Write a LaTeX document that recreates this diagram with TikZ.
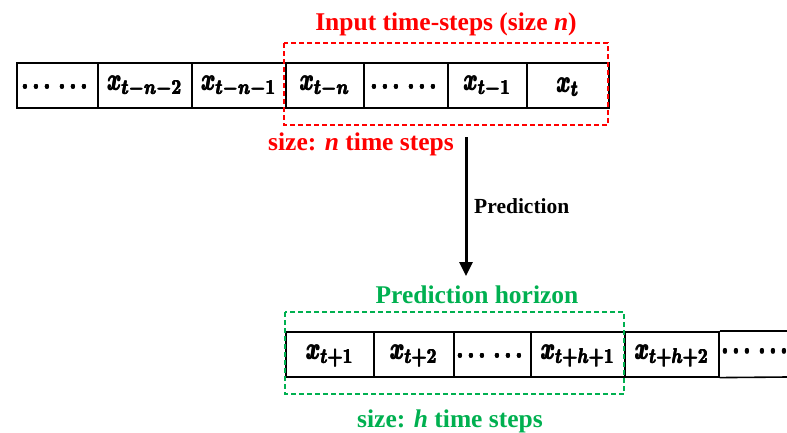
\documentclass[tikz,border=0pt]{standalone}
\usepackage{amsmath,graphicx}
\usepackage[no-math]{fontspec}
\setmainfont{Liberation Serif}
\usetikzlibrary{arrows.meta}
\definecolor{myred}{HTML}{FF0000}
\definecolor{mygreen}{HTML}{00B050}
\newcommand{\fb}[1]{\rlap{#1}\rlap{\kern0.4pt#1}\rlap{\raisebox{0.3pt}{#1}}\kern0.4pt\raisebox{0.3pt}{#1}}
\newcommand{\mth}[1]{\scalebox{2.15}[3.05]{\fontsize{10}{12}\selectfont\boldmath\fb{#1}}}
\begin{document}
\begin{tikzpicture}[x=1pt,y=-1pt,
  cell/.style={draw=black,line width=1.6pt,inner sep=0pt,anchor=north west,
    minimum height=45pt},
  lbl/.style={font=\fontsize{25.5}{30}\selectfont\bfseries,anchor=base,inner sep=0pt},
  dashbox/.style={line width=1.6pt,dash pattern=on 5pt off 3pt}]
\useasboundingbox (0,0) rectangle (787,432);
% top row
\foreach \a/\b/\n/\t in {16/97/c1/{$\cdots\,\cdots$},97/191/c2/{$x_{t-n-2}$},191/285/c3/{$x_{t-n-1}$},285/363/c4/{$x_{t-n}$},363/447/c5/{$\cdots\,\cdots$},447/526/c6/{$x_{t-1}$},526/608/c7/{$x_{t}$}}{
  \pgfmathsetmacro{\w}{\b-\a}
  \node[cell,minimum width=\w pt] (\n) at (\a,62) {};
  \node[inner sep=0pt] (\n t) at ([yshift=-2pt]\n.center) {\mth{\t}};
}
% bottom row
\foreach \a/\b/\n/\t in {285/373/d1/{$x_{t+1}$},373/453/d2/{$x_{t+2}$},453/530/d3/{$\cdots\,\cdots$},530/624/d4/{$x_{t+h+1}$},624/718/d5/{$x_{t+h+2}$}}{
  \pgfmathsetmacro{\w}{\b-\a}
  \node[cell,minimum width=\w pt] (\n) at (\a,331) {};
  \node[inner sep=0pt] (\n t) at ([yshift=-2pt]\n.center) {\mth{\t}};
}
\coordinate (d6a) at (787,331);
\coordinate (d6b) at (787,377);
\draw[line width=1.6pt] (d5.north east) -- (d6a);
\draw[line width=1.6pt] (d5.south east) -- (d6b);
\node[inner sep=0pt] (d6t) at (757,352) {\mth{$\cdots\,\cdots$}};
% red dashed box
\draw[dashbox,myred] (284,43) rectangle (608,125);
\node[lbl,myred] (title) at (446,30) {Input time-steps (size \textit{n})};
\node[lbl,myred] (sizen) at (361,150) {size: \textit{n} time steps};
% arrow
\coordinate (arrS) at (466,137);
\coordinate (arrE) at (466,276);
\draw[line width=3pt,-{Triangle[width=13pt,length=14pt]}] (arrS) -- (arrE);
\node[font=\fontsize{21.5}{26}\selectfont\bfseries,anchor=base west,inner sep=0pt] (pred) at (474,213) {Prediction};
% green dashed box
\draw[dashbox,mygreen] (285,312) rectangle (624,394);
\node[lbl,mygreen] (hor) at (477,303) {Prediction horizon};
\node[lbl,mygreen] (sizeh) at (450,427) {size: \textit{h} time steps};
\end{tikzpicture}
\end{document}
